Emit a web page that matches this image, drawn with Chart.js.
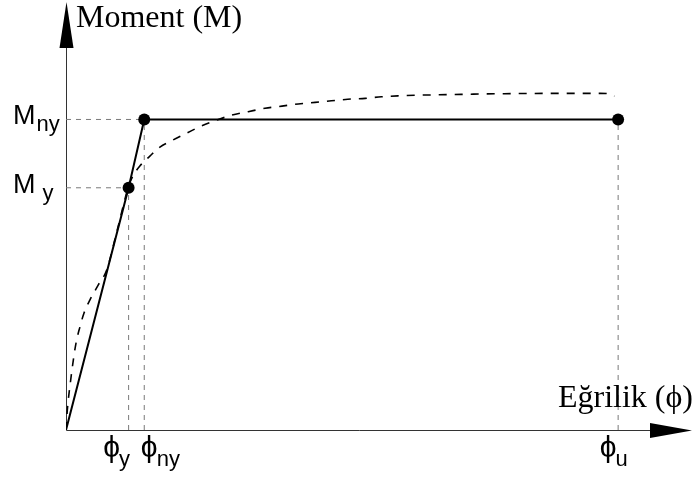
<!DOCTYPE html>
<html>
<head>
<meta charset="utf-8">
<script src="https://cdn.jsdelivr.net/npm/chart.js@4/dist/chart.umd.min.js"></script>
<style>
  html, body { margin: 0; padding: 0; background: #ffffff; }
  #wrap { width: 692px; height: 479px; }
</style>
</head>
<body>
<div id="wrap"><canvas id="mk" width="692" height="479"></canvas></div>
<script>
// Key points of the idealised (bilinear) moment–curvature relation
const phiY = 10;      // yield curvature
const phiNy = 12.5;   // nominal yield curvature
const phiU = 88.2;    // ultimate curvature
const My = 0.78;      // first yield moment
const Mny = 1.0;      // nominal yield moment

const bilinearPhi = [0, phiY, phiNy, phiU];
const bilinearM   = [0, My, Mny, Mny];

// Actual (section analysis) moment–curvature curve
const curvePhi = [0, 0.21, 0.75, 1.17, 1.6, 2.24, 2.88, 3.83, 5.16, 6.5, 8.2, 10, 10.75, 11.8, 13.4, 15, 17.1, 19.3, 21.4, 23.8, 26.5, 29.1, 31.8, 34.5, 37.1, 39.8, 42.4, 45, 47.8, 50.4, 53, 55.8, 58.4, 61, 70, 80, 85.3, 86.9, 87.6];
const curveM   = [0, 0.064, 0.161, 0.225, 0.28, 0.333, 0.377, 0.419, 0.467, 0.515, 0.645, 0.785, 0.82, 0.85, 0.882, 0.911, 0.934, 0.956, 0.977, 0.996, 1.014, 1.025, 1.036, 1.043, 1.05, 1.055, 1.06, 1.065, 1.068, 1.073, 1.076, 1.078, 1.079, 1.08, 1.083, 1.084, 1.084, 1.082, 1.075];

// Axis titles and tick labels (main symbol + subscript)
const yTitle = 'Moment (M)';
const xTitle = 'Eğrilik (ϕ)';
const momentTicks = [Mny, My];
const momentTickText = [['M', 'ny'], ['M', ' y']];
const curvatureTicks = [phiY, phiNy, phiU];
const curvatureTickText = [['ϕ', 'y'], ['ϕ', 'ny'], ['ϕ', 'u']];

const pts = (xs, ys) => xs.map((x, i) => ({ x, y: ys[i] }));
const seg = (x1, y1, x2, y2) => [{ x: x1, y: y1 }, { x: x2, y: y2 }];

const guideStyle = {
  showLine: true, borderColor: '#7a7a7a', borderWidth: 1, borderDash: [5, 5],
  pointRadius: 0, fill: false
};

// Draws the arrowed axes, titles and the symbolic tick labels
const diagramDecor = {
  id: 'diagramDecor',
  beforeDatasetsDraw(chart, args, opts) {
    const { ctx, chartArea } = chart;
    const xs = chart.scales.x, ys = chart.scales.y;
    const x0 = Math.round(xs.getPixelForValue(0)) + 0.5;
    const y0 = Math.round(ys.getPixelForValue(0)) + 0.5;
    ctx.save();
    ctx.strokeStyle = '#333333';
    ctx.lineWidth = 1;
    ctx.beginPath();
    ctx.moveTo(x0, y0);
    ctx.lineTo(x0, chartArea.top + 40);
    ctx.moveTo(x0, y0);
    ctx.lineTo(chartArea.right - 40, y0);
    ctx.stroke();
    // arrow heads
    ctx.fillStyle = '#000000';
    ctx.beginPath();
    ctx.moveTo(x0, chartArea.top - 1);
    ctx.lineTo(x0 - 7, chartArea.top + 45);
    ctx.lineTo(x0 + 7, chartArea.top + 45);
    ctx.closePath();
    ctx.fill();
    ctx.beginPath();
    ctx.moveTo(chartArea.right, y0);
    ctx.lineTo(chartArea.right - 42, y0 - 7.5);
    ctx.lineTo(chartArea.right - 42, y0 + 7.5);
    ctx.closePath();
    ctx.fill();
    ctx.restore();
  },
  afterDatasetsDraw(chart, args, opts) {
    const { ctx, chartArea } = chart;
    const xs = chart.scales.x, ys = chart.scales.y;
    const x0 = xs.getPixelForValue(0);
    const y0 = ys.getPixelForValue(0);
    ctx.save();
    ctx.fillStyle = '#000000';
    ctx.textBaseline = 'alphabetic';
    // axis titles
    ctx.font = '32px "Liberation Serif", "DejaVu Serif", serif';
    ctx.textAlign = 'left';
    ctx.fillText(yTitle, x0 + 10, chartArea.top + 24);
    ctx.textAlign = 'right';
    ctx.fillText(xTitle, chartArea.right + 1, y0 - 23);

    // moment labels on the vertical axis
    ctx.textAlign = 'left';
    momentTicks.forEach((v, i) => {
      const py = ys.getPixelForValue(v);
      const [main, sub] = momentTickText[i];
      ctx.font = '27px "Liberation Sans", "DejaVu Sans", sans-serif';
      ctx.fillText(main, 13, py + 5);
      const w = ctx.measureText(main).width;
      ctx.font = '22px "Liberation Sans", "DejaVu Sans", sans-serif';
      ctx.fillText(sub, 13 + w + 1, py + 12);
    });

    // curvature labels under the horizontal axis
    curvatureTicks.forEach((v, i) => {
      const px = xs.getPixelForValue(v) + opts.curvatureShift[i];
      const [main, sub] = curvatureTickText[i];
      ctx.font = '30px "Liberation Sans", "DejaVu Sans", sans-serif';
      ctx.textAlign = 'center';
      ctx.fillText(main, px, y0 + 27);
      const w = ctx.measureText(main).width;
      ctx.font = '22px "Liberation Sans", "DejaVu Sans", sans-serif';
      ctx.textAlign = 'left';
      ctx.fillText(sub, px + w / 2 - 1, y0 + 36);
    });
    ctx.restore();
  }
};

new Chart(document.getElementById('mk'), {
  type: 'scatter',
  data: {
    datasets: [
      {
        label: 'İdealleştirilmiş',
        data: pts(bilinearPhi, bilinearM),
        showLine: true,
        borderColor: '#000000',
        borderWidth: 2,
        pointRadius: [0, 6, 6, 6],
        pointBackgroundColor: '#000000',
        pointBorderColor: '#000000',
        pointBorderWidth: 0,
        tension: 0
      },
      {
        label: 'Gerçek',
        data: pts(curvePhi, curveM),
        showLine: true,
        borderColor: '#000000',
        borderWidth: 1.6,
        borderDash: [8, 8],
        pointRadius: 0,
        cubicInterpolationMode: 'monotone'
      },
      Object.assign({ data: seg(0, My, phiY, My) }, guideStyle),
      Object.assign({ data: seg(0, Mny, phiNy, Mny) }, guideStyle),
      Object.assign({ data: seg(phiY, 0, phiY, My) }, guideStyle),
      Object.assign({ data: seg(phiNy, 0, phiNy, Mny) }, guideStyle),
      Object.assign({ data: seg(phiU, 0, phiU, Mny) }, guideStyle)
    ]
  },
  options: {
    responsive: false,
    animation: false,
    events: [],
    layout: { autoPadding: false, padding: { left: 66, right: 0, top: 3, bottom: 49 } },
    scales: {
      x: { type: 'linear', min: 0, max: 100, display: false },
      y: { type: 'linear', min: 0, max: 1.375, display: false }
    },
    plugins: {
      legend: { display: false },
      tooltip: { enabled: false },
      diagramDecor: { curvatureShift: [-17, 5, -10] }
    }
  },
  plugins: [diagramDecor]
});
</script>
</body>
</html>
